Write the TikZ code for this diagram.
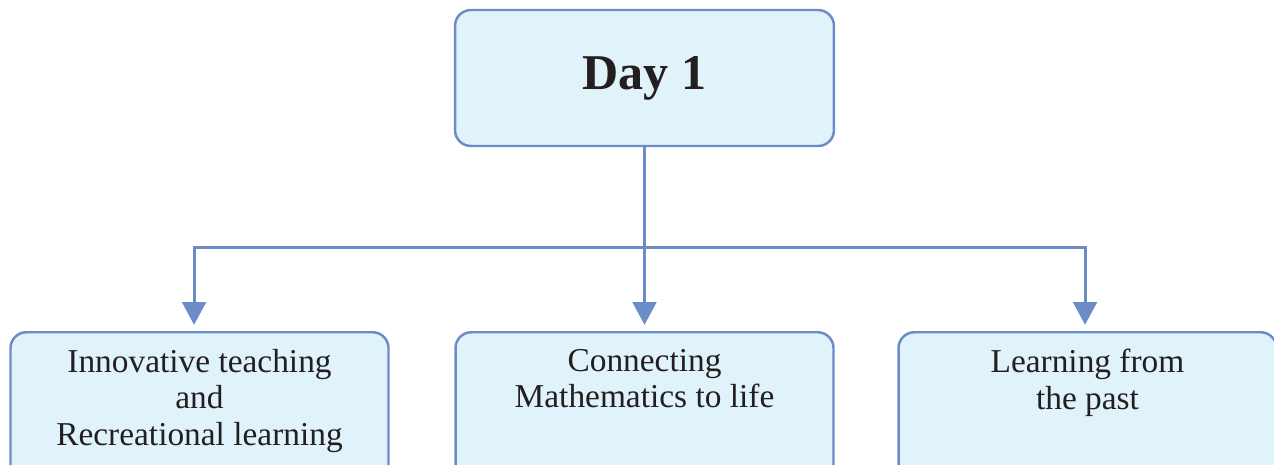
\documentclass[tikz,border=0pt]{standalone}
\usepackage{fontspec}
\setmainfont{Liberation Serif}
\usetikzlibrary{arrows.meta}

\definecolor{boxline}{RGB}{108,140,200}
\definecolor{boxfill}{RGB}{224,242,250}
\definecolor{ink}{RGB}{35,31,32}

\tikzset{
  daybox/.style={draw=boxline, fill=boxfill, line width=1.4pt, rounded corners=9pt, text=ink,
    minimum width=7.58cm, minimum height=2.72cm, font=\bfseries\fontsize{28.5}{32}\selectfont},
  topicbox/.style={draw=boxline, fill=boxfill, line width=1.4pt, rounded corners=9pt, text=ink,
    anchor=north, inner xsep=3pt, inner ysep=9.5pt, font=\fontsize{19}{21}\selectfont},
  link/.style={draw=boxline, line width=1.7pt, -{Triangle[length=13pt,width=13.5pt]}, shorten >=3.5pt}
}
\newcommand{\topictext}[1]{\parbox[t][2.4cm][t]{7.35cm}{\centering #1}}

\begin{document}
\begin{tikzpicture}[x=0.02cm, y=-0.02cm]
    \useasboundingbox (0,0) rectangle (1274,464);

    % Tag
    \node[daybox] (day) at (644.5,78) {Day 1};

    % Themen
    \node[topicbox] (innov) at (199.5,331) {\topictext{Innovative teaching\\and\\Recreational learning}};
    \node[topicbox] (life) at (644.5,331) {\topictext{Connecting\\Mathematics to life}};
    \node[topicbox] (past) at (1087.5,331) {\topictext{Learning from\\the past}};

    % Verzweigung
    \coordinate (hub) at (644.5,247);
    \draw[link] (day.south) -- (life.north);
    \draw[link] (hub) -| ([xshift=-3.1pt]innov.north);
    \draw[link] (hub) -| ([xshift=-1.4pt]past.north);
\end{tikzpicture}
\end{document}
